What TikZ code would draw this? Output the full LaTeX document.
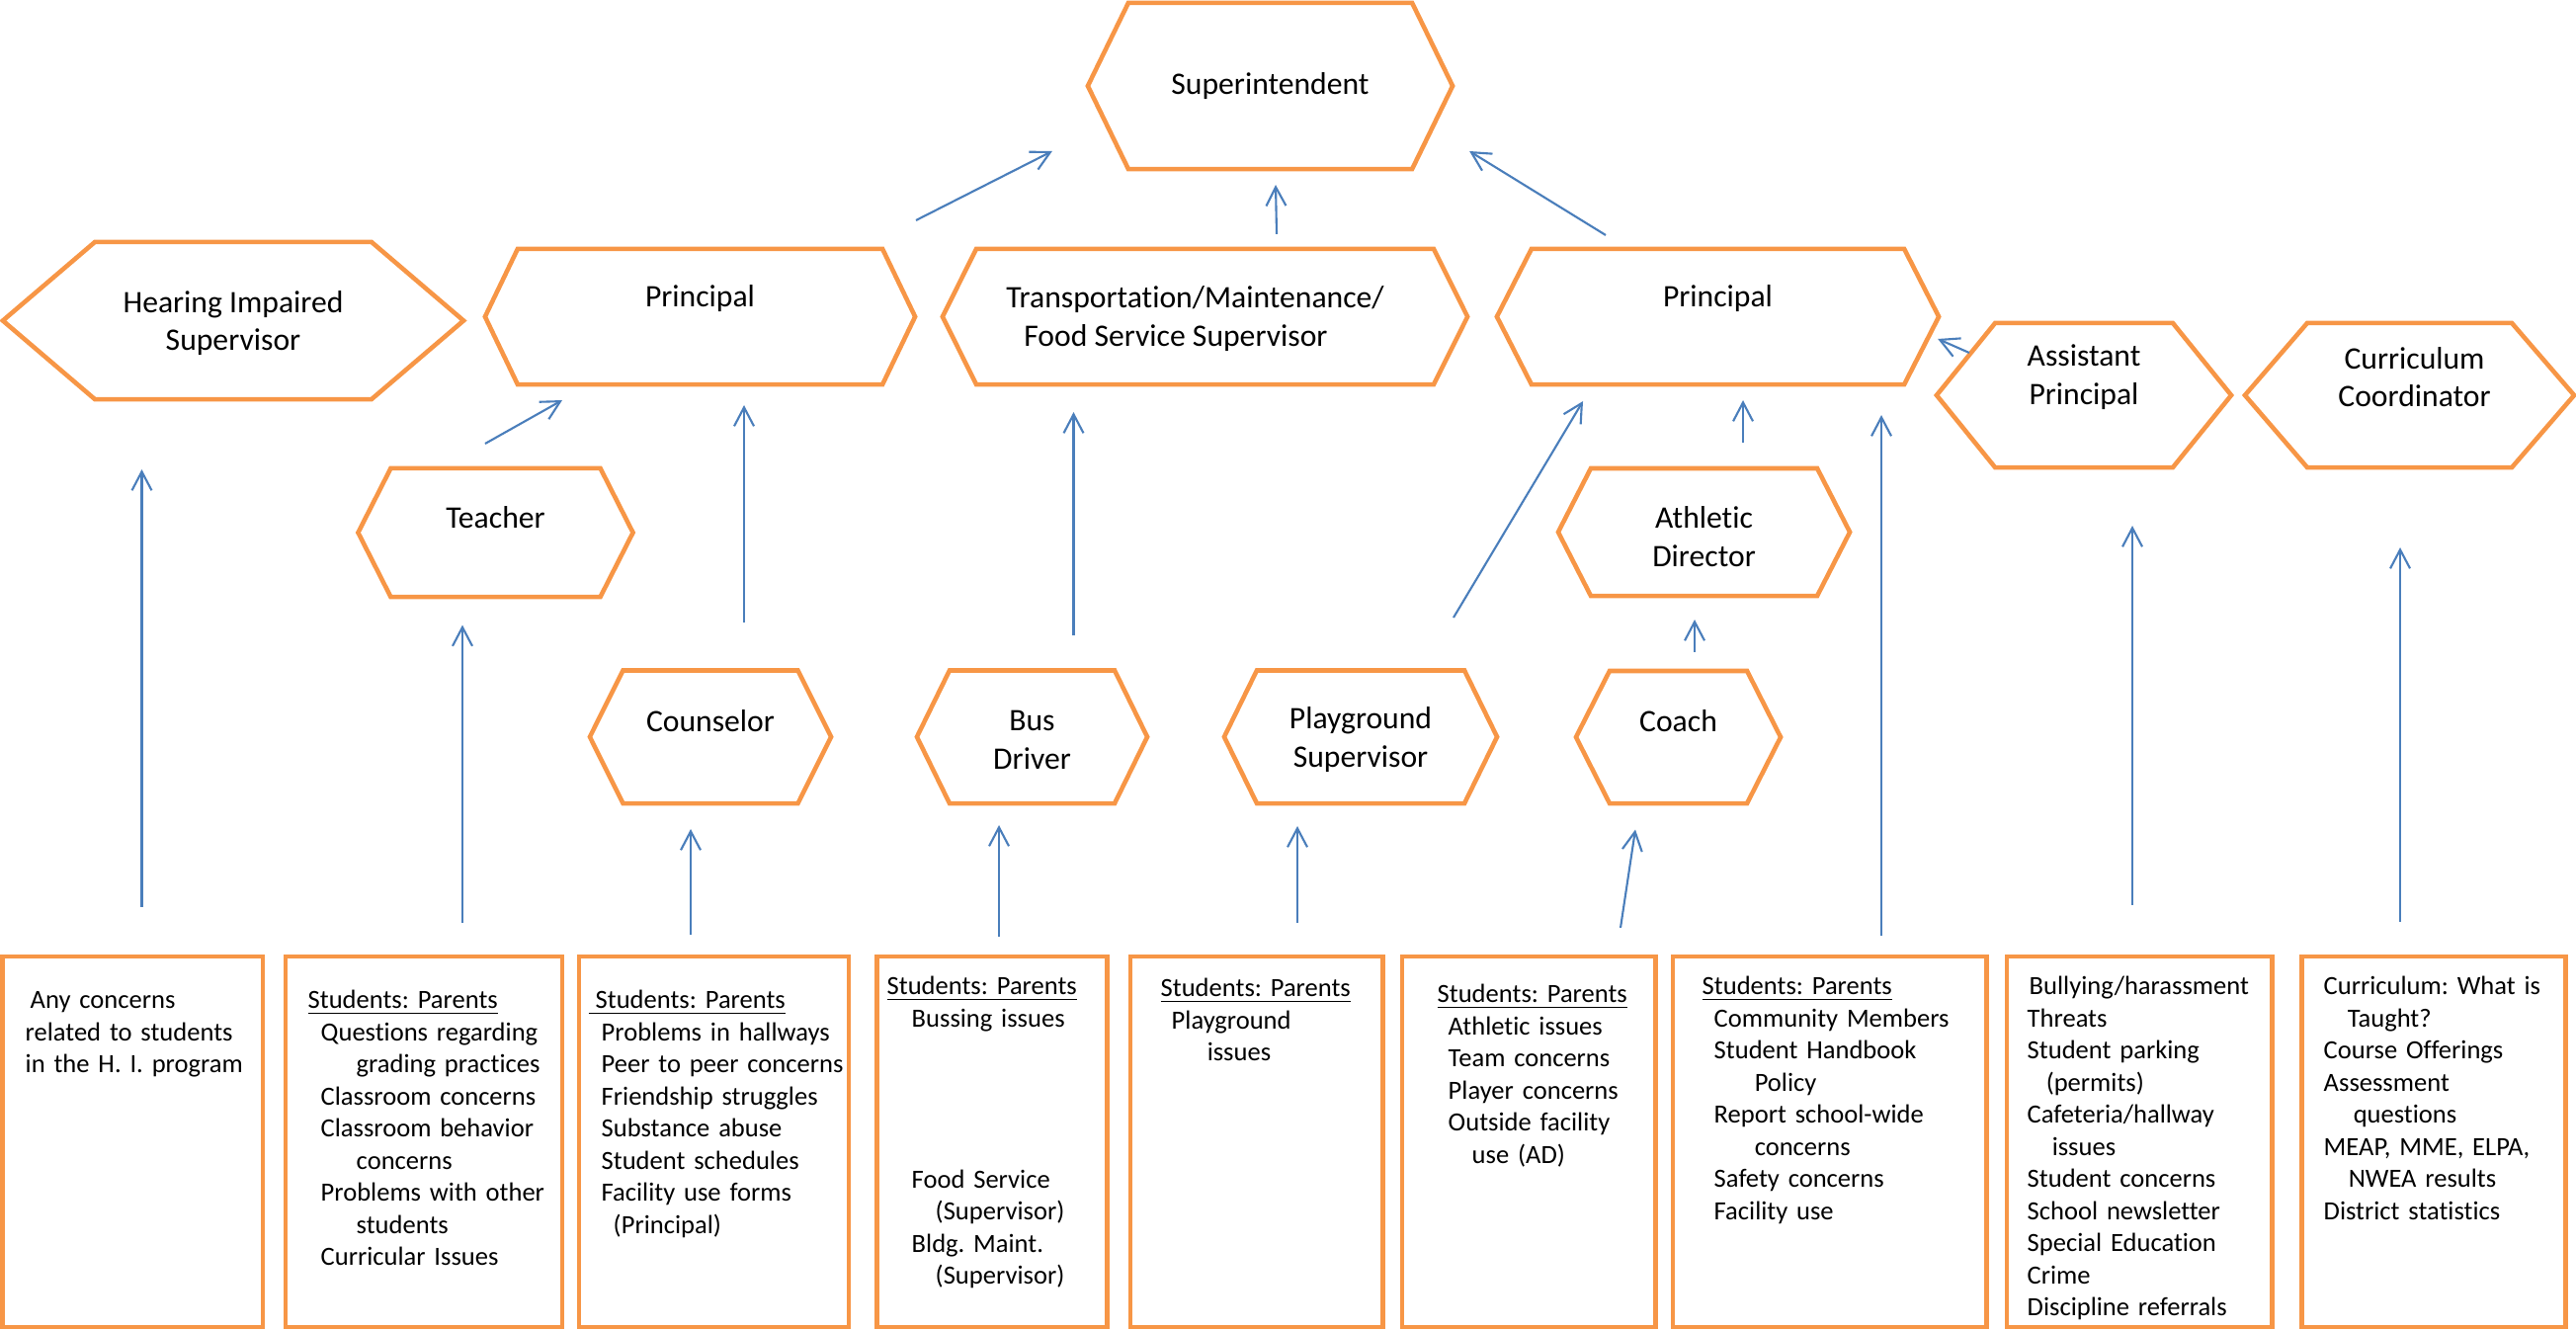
\documentclass[tikz,border=0pt]{standalone}
\usepackage{fontspec}
\setmainfont{Carlito}[Ligatures=NoCommon]
\usetikzlibrary{shapes.symbols,arrows.meta}
\frenchspacing

\definecolor{borderorange}{HTML}{F79646}
\definecolor{arrowblue}{HTML}{4A7EBB}
\newcommand{\hexsize}{\fontsize{9}{11}\selectfont}
\newcommand{\listsize}{\fontsize{7.55}{9.25}\selectfont}

\begin{document}
\begin{tikzpicture}[x=0.01cm, y=-0.01cm,
              hexa/.style={shape=signal, signal to=east and west, signal pointer angle=127,
                draw=borderorange, line width=1.3pt, inner sep=0pt, outer sep=0pt},
              panel/.style={rectangle, draw=borderorange, line width=1.3pt, inner sep=0pt,
                outer sep=0pt, minimum height=3.75cm},
              items/.style={anchor=base west, inner sep=0pt, text width=4cm, align=left, font=\listsize},
              arr/.style={draw=arrowblue, line width=0.6pt, -{Straight Barb[length=1.9mm,width=2mm]}},
              every label/.style={font=\hexsize, align=center, inner sep=0pt}
            ]
              \useasboundingbox (0,0) rectangle (2607,1346);

              % top levels
              \node[hexa, minimum width=3.69cm, minimum height=1.68cm, signal pointer angle=128,
                label={center:Superintendent}] (sup) at (1285.5,87) {};
              \node[hexa, minimum width=4.66cm, minimum height=1.59cm, signal pointer angle=81,
                label={[yshift=-0.025cm]center:Hearing Impaired\\Supervisor}] (hi) at (236,324.5) {};
              \node[hexa, minimum width=4.35cm, minimum height=1.37cm, signal pointer angle=128.6,
                label={[yshift=0.185cm]center:Principal}] (prinL) at (708.5,320.5) {};
              \node[hexa, minimum width=5.31cm, minimum height=1.37cm,
                label={[xshift=-0.1cm,yshift=-0.02cm,align=left]center:Transportation/Maintenance/\\\hspace*{0.18cm}Food Service Supervisor}] (trans) at (1219.5,320.5) {};
              \node[hexa, minimum width=4.47cm, minimum height=1.37cm, signal pointer angle=125.9,
                label={[yshift=0.185cm]center:Principal}] (prinR) at (1738.5,320.5) {};
              \node[hexa, minimum width=2.98cm, minimum height=1.46cm, signal pointer angle=102,
                label={[yshift=0.185cm]center:Assistant\\Principal}] (asst) at (2109,400) {};
              \node[hexa, minimum width=3.33cm, minimum height=1.46cm, signal pointer angle=98.4,
                label={[xshift=0.05cm,yshift=0.185cm]center:Curriculum\\Coordinator}] (curr) at (2438.5,400) {};

              % staff
              \node[hexa, minimum width=2.78cm, minimum height=1.30cm, signal pointer angle=126.2,
                label={[yshift=0.15cm]center:Teacher}] (teacher) at (501.5,539) {};
              \node[hexa, minimum width=2.95cm, minimum height=1.29cm, signal pointer angle=125.8,
                label={[yshift=-0.045cm]center:Athletic\\Director}] (ad) at (1724.5,538.5) {};
              \node[hexa, minimum width=2.44cm, minimum height=1.345cm,
                label={[yshift=0.165cm]center:Counselor}] (couns) at (719,745.75) {};
              \node[hexa, minimum width=2.33cm, minimum height=1.345cm, signal pointer angle=127.7,
                label={[yshift=-0.03cm]center:Bus\\Driver}] (bus) at (1044.5,745.75) {};
              \node[hexa, minimum width=2.76cm, minimum height=1.345cm, signal pointer angle=127.7,
                label={[yshift=-0.03cm]center:Playground\\Supervisor}] (play) at (1377,745.75) {};
              \node[hexa, minimum width=2.07cm, minimum height=1.34cm, signal pointer angle=126.2,
                label={[yshift=0.16cm]center:Coach}] (coach) at (1698.5,746) {};

              % concern panels
              \node[panel, minimum width=2.635cm] (b1) at (134.25,1155.5) {};
              \node[panel, minimum width=2.80cm] (b2) at (429,1155.5) {};
              \node[panel, minimum width=2.73cm] (b3) at (722.5,1155.5) {};
              \node[panel, minimum width=2.33cm] (b4) at (1004,1155.5) {};
              \node[panel, minimum width=2.555cm] (b5) at (1271.75,1155.5) {};
              \node[panel, minimum width=2.565cm] (b6) at (1547.25,1155.5) {};
              \node[panel, minimum width=3.175cm] (b7) at (1851.75,1155.5) {};
              \node[panel, minimum width=2.685cm] (b8) at (2165.25,1155.5) {};
              \node[panel, minimum width=2.67cm] (b9) at (2463,1155.5) {};

              \node[items] (t1) at (25,1020.5) {\hspace*{0.05cm}Any concerns\\related to students\\in the H. I. program};
              \node[items] (t2) at (311,1020.5) {\underline{Students: Parents}\\
                \hspace*{0.13cm}Questions regarding\\\hspace*{0.49cm}grading practices\\
                \hspace*{0.13cm}Classroom concerns\\\hspace*{0.13cm}Classroom behavior\\
                \hspace*{0.49cm}concerns\\\hspace*{0.13cm}Problems with other\\
                \hspace*{0.49cm}students\\\hspace*{0.13cm}Curricular Issues};
              \node[items] (t3) at (595,1020.5) {\underline{\hspace{0.07cm}Students: Parents}\\
                \hspace*{0.13cm}Problems in hallways\\\hspace*{0.13cm}Peer to peer concerns\\
                \hspace*{0.13cm}Friendship struggles\\\hspace*{0.13cm}Substance abuse\\
                \hspace*{0.13cm}Student schedules\\\hspace*{0.13cm}Facility use forms\\
                \hspace*{0.25cm}(Principal)};
              \node[items] (t4) at (897,1006.5) {\underline{Students: Parents}\\
                \hspace*{0.25cm}Bussing issues\\[1.305cm]
                \hspace*{0.25cm}Food Service\\\hspace*{0.49cm}(Supervisor)\\
                \hspace*{0.25cm}Bldg. Maint.\\\hspace*{0.49cm}(Supervisor)};
              \node[items] (t5) at (1174,1008.5) {\underline{Students: Parents}\\
                \hspace*{0.11cm}Playground\\\hspace*{0.47cm}issues};
              \node[items] (t6) at (1454,1014.5) {\underline{Students: Parents}\\
                \hspace*{0.11cm}Athletic issues\\\hspace*{0.11cm}Team concerns\\
                \hspace*{0.11cm}Player concerns\\\hspace*{0.11cm}Outside facility\\
                \hspace*{0.35cm}use (AD)};
              \node[items] (t7) at (1722,1006.5) {\underline{Students: Parents}\\
                \hspace*{0.12cm}Community Members\\\hspace*{0.12cm}Student Handbook\\
                \hspace*{0.53cm}Policy\\\hspace*{0.12cm}Report school-wide\\
                \hspace*{0.53cm}concerns\\\hspace*{0.12cm}Safety concerns\\
                \hspace*{0.12cm}Facility use};
              \node[items] (t8) at (2051,1006.5) {\hspace*{0.02cm}Bullying/harassment\\Threats\\
                Student parking\\\hspace*{0.19cm}(permits)\\Cafeteria/hallway\\
                \hspace*{0.25cm}issues\\Student concerns\\School newsletter\\
                Special Education\\Crime\\Discipline referrals};
              \node[items] (t9) at (2351,1006.5) {Curriculum: What is\\\hspace*{0.24cm}Taught?\\
                Course Offerings\\Assessment\\\hspace*{0.30cm}questions\\
                MEAP, MME, ELPA,\\\hspace*{0.25cm}NWEA results\\District statistics};

              % reporting lines
              \draw[arr] ([shift={(9.25,-50)}]b1.north) -- ([shift={(-92.5,71)}]hi.south);
              \draw[arr] ([shift={(39,-34)}]b2.north) -- ([shift={(-33.5,28.5)}]teacher.south);
              \draw[arr] ([shift={(-10.5,-25)}]teacher.north) -- ([shift={(-139.5,16)}]prinL.south);
              \draw[arr] ([shift={(34,-48.5)}]couns.north) -- ([shift={(44.5,21)}]prinL.south);
              \draw[arr] ([shift={(-23.5,-22)}]b3.north) -- ([shift={(-20,26)}]couns.south);
              \draw[arr] ([shift={(42,-35.5)}]bus.north) -- ([shift={(-133,28)}]trans.south);
              \draw[arr] ([shift={(7,-20)}]b4.north) -- ([shift={(-33.5,22)}]bus.south);
              \draw[arr] ([shift={(41.25,-34)}]b5.north) -- ([shift={(-64,23)}]play.south);
              \draw[arr] ([shift={(94,-53.5)}]play.north) -- ([shift={(-136.5,17)}]prinR.south);
              \draw[arr] ([shift={(16.5,-19)}]coach.north) -- ([shift={(-9.5,24)}]ad.south);
              \draw[arr] ([shift={(92.75,-29)}]b6.north) -- ([shift={(-43.5,26.5)}]coach.south);
              \draw[arr] ([shift={(39.5,-26)}]ad.north) -- ([shift={(25.5,16)}]prinR.south);
              \draw[arr] ([shift={(52.25,-21)}]b7.north) -- ([shift={(165.5,31)}]prinR.south);
              \draw[arr] ([shift={(33,-43)}]asst.west) -- ([shift={(-1,22.5)}]prinR.east);
              \draw[arr] ([shift={(-7.25,-52)}]b8.north) -- ([shift={(49,59)}]asst.south);
              \draw[arr] ([shift={(-34,-35)}]b9.north) -- ([shift={(-9.5,81)}]curr.south);
              \draw[arr] ([shift={(218.5,-29)}]prinL.north) -- ([shift={(-36,66)}]sup.west);
              \draw[arr] ([shift={(72.5,-15)}]trans.north) -- ([shift={(5.5,16)}]sup.south);
              \draw[arr] ([shift={(-113.5,-14)}]prinR.north) -- ([shift={(17,66)}]sup.east);
            \end{tikzpicture}
\end{document}
